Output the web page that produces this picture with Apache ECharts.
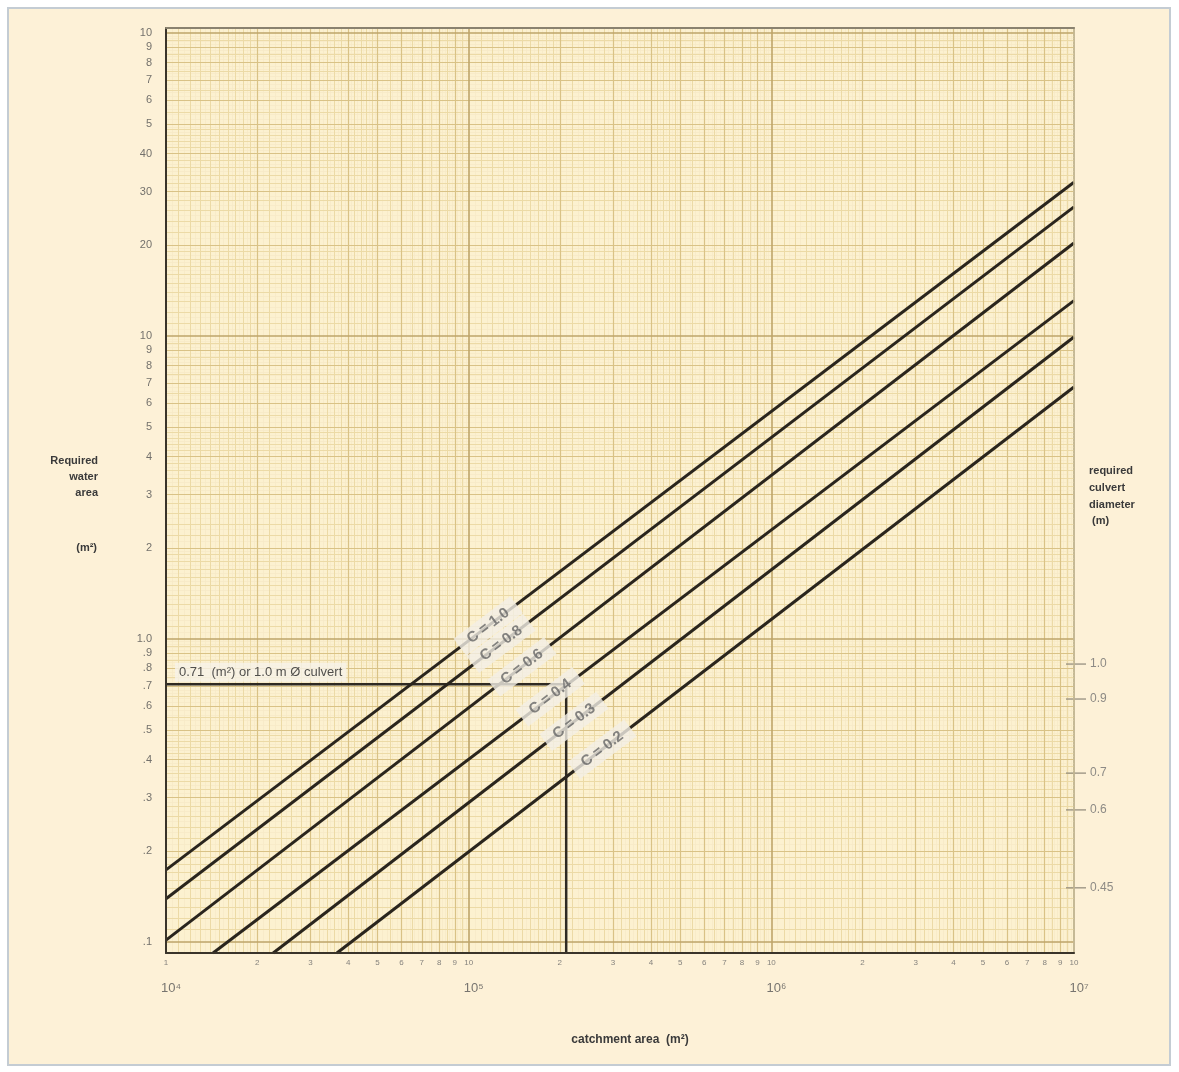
<!DOCTYPE html>
<html><head><meta charset="utf-8">
<script src="https://cdn.jsdelivr.net/npm/echarts@6/dist/echarts.min.js"></script>
<style>html,body{margin:0;padding:0;background:#ffffff}#c{width:1179px;height:1072px}</style>
</head><body><div id="c"></div>
<script>
// ---- data ----
const coeffLabels = ['C = 1.0', 'C = 0.8', 'C = 0.6', 'C = 0.4', 'C = 0.3', 'C = 0.2'];
const lineC10 = [[1e4, 0.173], [1e7, 32.2]];
const lineC08 = [[1e4, 0.139], [1e7, 26.7]];
const lineC06 = [[1e4, 0.1015], [1e7, 20.3]];
const lineC04 = [[14300, 0.092], [1e7, 13.1]];
const lineC03 = [[22600, 0.092], [1e7, 9.93]];
const lineC02 = [[36700, 0.092], [1e7, 6.79]];
const labelAnchors = [[1.16e5, 1.106], [1.28e5, 0.968], [1.50e5, 0.81], [1.86e5, 0.645], [2.23e5, 0.535], [2.76e5, 0.433]];
const exampleArea = 0.71;
const exampleCatchment = 2.1e5;
const exampleText = '0.71  (m²) or 1.0 m Ø culvert';

const yTickValues = [0.1, 0.2, 0.3, 0.4, 0.5, 0.6, 0.7, 0.8, 0.9, 1, 2, 3, 4, 5, 6, 7, 8, 9, 10, 20, 30, 40, 50, 60, 70, 80, 90, 100];
const yTickLabels = ['.1', '.2', '.3', '.4', '.5', '.6', '.7', '.8', '.9', '1.0', '2', '3', '4', '5', '6', '7', '8', '9', '10', '20', '30', '40', '5', '6', '7', '8', '9', '10'];
const xTickValues = [1e4, 2e4, 3e4, 4e4, 5e4, 6e4, 7e4, 8e4, 9e4, 1e5, 2e5, 3e5, 4e5, 5e5, 6e5, 7e5, 8e5, 9e5, 1e6, 2e6, 3e6, 4e6, 5e6, 6e6, 7e6, 8e6, 9e6, 1e7];
const xTickLabels = ['1', '2', '3', '4', '5', '6', '7', '8', '9', '10', '2', '3', '4', '5', '6', '7', '8', '9', '10', '2', '3', '4', '5', '6', '7', '8', '9', '10'];
const xDecadeValues = [1e4, 1e5, 1e6, 1e7];
const xDecadeLabels = ['10⁴', '10⁵', '10⁶', '10⁷'];
const culvertDiameterLabels = ['1.0', '0.9', '0.7', '0.6', '0.45'];
const culvertAreaPositions = [0.827, 0.634, 0.361, 0.273, 0.151];

// ---- axis ranges ----
const X_MIN = 1e4, X_MAX = 1e7, Y_MIN = 0.092, Y_MAX = 104;

// ---- graph-paper structure ----
const decadesX = [1e4, 1e5, 1e6];
const decadesY = [0.1, 1, 10];
const majorMults = [2, 3, 4, 5, 6, 7, 8, 9];
const midMults = [1.1, 1.2, 1.3, 1.4, 1.5, 1.6, 1.7, 1.8, 1.9, 2.2, 2.4, 2.6, 2.8, 3.2, 3.4, 3.6, 3.8, 4.2, 4.4, 4.6, 4.8, 5.5, 6.5, 7.5, 8.5, 9.5];
const fineMults = [1.05, 1.15, 1.25, 1.35, 1.45, 1.55, 1.65, 1.75, 1.85, 1.95,
  2.1, 2.3, 2.5, 2.7, 2.9, 3.1, 3.3, 3.5, 3.7, 3.9, 4.1, 4.3, 4.5, 4.7, 4.9,
  5.2, 5.4, 5.6, 5.8, 6.2, 6.4, 6.6, 6.8, 7.2, 7.4, 7.6, 7.8, 8.2, 8.4, 8.6, 8.8, 9.2, 9.4, 9.6, 9.8];

function gridLines(decades, mults, key, lo, hi) {
  const out = [];
  decades.forEach(d => mults.forEach(m => {
    const v = parseFloat((d * m).toPrecision(6));
    if (v > lo && v < hi) out.push({ [key]: v });
  }));
  return out;
}
function carrier(name, data, color, width, z) {
  return {
    name, type: 'line', data: [], silent: true, z,
    markLine: { silent: true, z, symbol: 'none', animation: false, label: { show: false },
      lineStyle: { color, width, type: 'solid' }, emphasis: { disabled: true }, data }
  };
}
const fineData = gridLines(decadesX, fineMults, 'xAxis', X_MIN, X_MAX).concat(gridLines(decadesY, fineMults, 'yAxis', Y_MIN, Y_MAX));
const midData = gridLines(decadesX, midMults, 'xAxis', X_MIN, X_MAX).concat(gridLines(decadesY, midMults, 'yAxis', Y_MIN, Y_MAX));
const majorData = gridLines(decadesX, majorMults, 'xAxis', X_MIN, X_MAX).concat(gridLines(decadesY, majorMults, 'yAxis', Y_MIN, Y_MAX));
const decadeData = gridLines(decadesX, [1], 'xAxis', X_MIN, X_MAX).concat(gridLines(decadesY.concat([100]), [1], 'yAxis', Y_MIN, Y_MAX));

const cLine = (name, data) => ({
  name, type: 'line', data, symbol: 'none', z: 10, silent: true,
  lineStyle: { color: '#2a251d', width: 3 }
});
const hiddenParts = { axisTick: { show: false }, axisLabel: { show: false }, splitLine: { show: false } };

const font = 'Liberation Sans, Arial, sans-serif';
const chart = echarts.init(document.getElementById('c'));
chart.setOption({
  animation: false,
  backgroundColor: 'transparent',
  graphic: [
    { type: 'rect', z: -10, shape: { x: 8, y: 8, width: 1162, height: 1057 },
      style: { fill: '#fdf1d7', stroke: '#c4ccd3', lineWidth: 2 } },
    { type: 'text', x: 98, y: 453, style: { text: 'Required\nwater\narea', font: 'bold 11px ' + font, fill: '#3a3a3a', align: 'right', verticalAlign: 'top', lineHeight: 16 } },
    { type: 'text', x: 97, y: 548, style: { text: '(m²)', font: 'bold 11px ' + font, fill: '#3a3a3a', align: 'right', verticalAlign: 'middle' } },
    { type: 'text', x: 1089, y: 462, style: { text: 'required\nculvert\ndiameter', font: 'bold 11px ' + font, fill: '#3a3a3a', align: 'left', verticalAlign: 'top', lineHeight: 17 } },
    { type: 'text', x: 1092, y: 521, style: { text: '(m)', font: 'bold 11px ' + font, fill: '#3a3a3a', align: 'left', verticalAlign: 'middle' } },
    { type: 'text', x: 630, y: 1040, style: { text: 'catchment area  (m²)', font: 'bold 12px ' + font, fill: '#3a3a3a', align: 'center', verticalAlign: 'middle' } }
  ],
  grid: { left: 166, right: 105, top: 28, bottom: 119, show: true, backgroundColor: '#fcf1d0', borderColor: '#a79e86', borderWidth: 1.5 },
  xAxis: [
    Object.assign({ type: 'log', logBase: 10, min: X_MIN, max: X_MAX, z: 20, position: 'bottom',
      axisLine: { show: true, lineStyle: { color: '#3a342a', width: 2 } } }, hiddenParts),
    Object.assign({ type: 'log', logBase: 10, min: X_MIN, max: X_MAX, z: 20, position: 'top',
      axisLine: { show: true, lineStyle: { color: '#8a826f', width: 2 } } }, hiddenParts)
  ],
  yAxis: [
    Object.assign({ type: 'log', logBase: 10, min: Y_MIN, max: Y_MAX, z: 20, position: 'left',
      axisLine: { show: true, lineStyle: { color: '#3a342a', width: 2 } } }, hiddenParts),
    Object.assign({ type: 'log', logBase: 10, min: Y_MIN, max: Y_MAX, z: 20, position: 'right',
      axisLine: { show: true, lineStyle: { color: '#c9bb94', width: 1.5 } } }, hiddenParts)
  ],
  series: [
    carrier('fine', fineData, '#f6eac6', 0.8, 1),
    carrier('mid', midData, '#ecdaa6', 1, 2),
    carrier('major', majorData, '#d9c286', 1.2, 3),
    carrier('decade', decadeData, '#bea56a', 1.6, 4),
    cLine(coeffLabels[0], lineC10),
    cLine(coeffLabels[1], lineC08),
    cLine(coeffLabels[2], lineC06),
    cLine(coeffLabels[3], lineC04),
    cLine(coeffLabels[4], lineC03),
    cLine(coeffLabels[5], lineC02),
    { name: 'example', type: 'line', symbol: 'none', z: 9, silent: true,
      data: [[X_MIN, exampleArea], [exampleCatchment, exampleArea], [exampleCatchment, Y_MIN]],
      lineStyle: { color: '#2f2a22', width: 2.5 } },
    { name: 'exampleText', type: 'scatter', symbolSize: 0, z: 12, clip: false, silent: true,
      data: [[X_MIN, exampleArea]],
      label: { show: true, position: 'right', distance: 5, offset: [4, -12], formatter: exampleText,
        fontFamily: font, fontSize: 13, color: '#262626', backgroundColor: '#f6f2e8', padding: [3, 4] } },
    { name: 'coeffLabels', type: 'scatter', symbolSize: 0, z: 15, clip: false, silent: true,
      data: labelAnchors.map((p, i) => ({ value: p, name: coeffLabels[i] })),
      label: { show: true, position: 'inside', rotate: 37, formatter: p => coeffLabels[p.dataIndex],
        fontFamily: font, fontSize: 15, fontWeight: 'bold', color: '#666666',
        backgroundColor: '#f2efe6', padding: [3, 11] } },
    { name: 'yTicks', type: 'scatter', symbolSize: 0, z: 12, clip: false, silent: true,
      data: yTickValues.map(v => [X_MIN, v]),
      label: { show: true, position: 'left', distance: 14, formatter: p => yTickLabels[p.dataIndex],
        fontFamily: font, fontSize: 11, color: '#505050' } },
    { name: 'xTicks', type: 'scatter', symbolSize: 0, z: 12, clip: false, silent: true,
      data: xTickValues.map(v => [v, Y_MIN]),
      label: { show: true, position: 'bottom', distance: 6, formatter: p => xTickLabels[p.dataIndex],
        fontFamily: font, fontSize: 8, color: '#666' } },
    { name: 'xDecades', type: 'scatter', symbolSize: 0, z: 12, clip: false, silent: true,
      data: xDecadeValues.map(v => [v, Y_MIN]),
      label: { show: true, position: 'bottom', distance: 29, offset: [5, 0], formatter: p => xDecadeLabels[p.dataIndex],
        fontFamily: font, fontSize: 13, color: '#555' } },
    { name: 'culvertTicks', type: 'scatter', symbol: 'rect', symbolSize: [20, 1.5], symbolOffset: [2, 0], z: 12, clip: false, silent: true,
      itemStyle: { color: '#8d8778' },
      data: culvertAreaPositions.map(v => [X_MAX, v]),
      label: { show: true, position: 'right', distance: 4, formatter: p => culvertDiameterLabels[p.dataIndex],
        fontFamily: font, fontSize: 12, color: '#707070' } }
  ]
});
</script>
</body></html>
